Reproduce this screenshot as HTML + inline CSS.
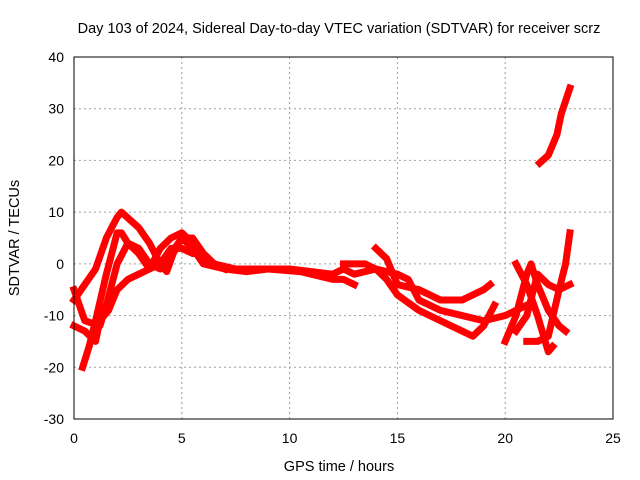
<!DOCTYPE html>
<html><head><meta charset="utf-8"><style>
body{margin:0;background:#fff;}
svg{display:block;font-family:"Liberation Sans",sans-serif;}
</style></head><body>
<svg id="chart" width="640" height="480">
<text x="339" y="33" font-size="14.5" text-anchor="middle">Day 103 of 2024, Sidereal Day-to-day VTEC variation (SDTVAR) for receiver scrz</text>
<text x="339" y="471" font-size="14.5" text-anchor="middle">GPS time / hours</text>
<text transform="translate(19,238) rotate(-90)" font-size="14.5" text-anchor="middle">SDTVAR / TECUs</text>
<g id="grid"></g>
<g id="ticks"></g>
<g id="series"></g>
<rect x="74" y="57" width="539" height="362" fill="none" stroke="#000" stroke-width="1"/>
</svg>
<script>
const xTicks=[0,5,10,15,20,25];
const yTicks=[-30,-20,-10,0,10,20,30,40];
const s1=[[0,-5],[0.5,-11],[1.2,-12],[1.5,-8],[2,0],[2.5,4],[3,3],[3.5,0],[4,-1],[4.5,2],[5,5],[5.5,3],[6,0],[7,-1],[8,-1.5],[9,-1],[10,-1],[11,-1.5],[12,-2],[12.5,-1],[13,-2],[14,-1],[14.5,-3],[15,-6],[16,-9],[17,-11],[18,-13],[18.5,-14],[19,-12],[19.5,-8]];
const s2=[[0,-7],[0.5,-4],[1,-1],[1.5,5],[2,9],[2.2,10],[3,7],[3.5,4],[4,0],[4.3,-1.5],[4.6,2],[5,5],[5.5,5],[6,2],[6.5,0],[7.5,-1],[9,-1],[10.5,-1.5],[12,-3],[12.5,-3],[13,-4]];
const s3=[[0,-12],[0.5,-13],[1,-15],[1.1,-13]];
const s4=[[0.4,-20],[0.7,-16],[1,-11],[1.5,-2],[2,6],[2.2,6],[2.5,4],[3,2],[3.5,-1],[4,3],[4.5,5],[5,6],[5.5,4],[6,1]];
const s5=[[1.2,-11],[1.6,-9],[2,-5],[2.5,-3],[3,-2],[3.5,-1],[4,0],[4.5,3],[5,3],[5.5,2],[6,2],[6.5,0],[7,-1]];
const s6=[[14,3],[14.5,1],[15,-4],[16,-5],[17,-7],[18,-7],[18.5,-6],[19,-5],[19.3,-4]];
const s7=[[12.5,0],[13,0],[13.5,0],[14,-1],[15,-2],[15.5,-3],[16,-7],[17,-9],[18,-10],[19,-11],[20,-10],[21,-8]];
const s8=[[20,-15],[20.5,-10],[21,-2],[21.2,0],[21.5,-4],[22,-9],[22.5,-12],[22.8,-13]];
const s9=[[20.5,-13],[21,-10],[21.5,-2],[22,-4],[22.5,-5],[23,-4]];
const s10=[[21,-15],[21.5,-15],[22,-14],[22.5,-5],[22.8,0],[23,6]];
const s11=[[20.5,0],[21,-4],[21.5,-10],[22,-17],[22.2,-16]];
const s12=[[21.6,19.5],[22,21],[22.4,25],[22.6,29],[23,34]];
const allSeries=[s1,s2,s3,s4,s5,s6,s7,s8,s9,s10,s11,s12];
const X=v=>74+v*(539/25), Y=v=>419-(v+30)*(362/70);
const NS='http://www.w3.org/2000/svg';
const grid=document.getElementById('grid'),ticks=document.getElementById('ticks'),ser=document.getElementById('series');
function mk(tag,attrs,parent){const e=document.createElementNS(NS,tag);for(const k in attrs)e.setAttribute(k,attrs[k]);parent.appendChild(e);return e;}
xTicks.forEach(t=>{
 if(t>0&&t<25){const g=mk('line',{x1:X(t),x2:X(t),y1:57,y2:419,stroke:'#a0a0a0','stroke-dasharray':'2,3'},grid);}
 const tl=mk('text',{x:X(t),y:443,'font-size':14,'text-anchor':'middle'},ticks);tl.textContent=t;
 
 
});
yTicks.forEach(t=>{
 if(t>-30&&t<40){const g=mk('line',{x1:74,x2:613,y1:Y(t),y2:Y(t),stroke:'#a0a0a0','stroke-dasharray':'2,3'},grid);}
 const tl=mk('text',{x:64,y:Y(t)+5,'font-size':14,'text-anchor':'end'},ticks);tl.textContent=t;
 
 
});
allSeries.forEach((s,i)=>{
 const p=mk('polyline',{points:s.map(d=>X(d[0])+','+Y(d[1])).join(' '),fill:'none',stroke:'#ff0000','stroke-width':7,'stroke-linejoin':'round','stroke-linecap':'square'},ser);
 
 
});
</script>
</body></html>
